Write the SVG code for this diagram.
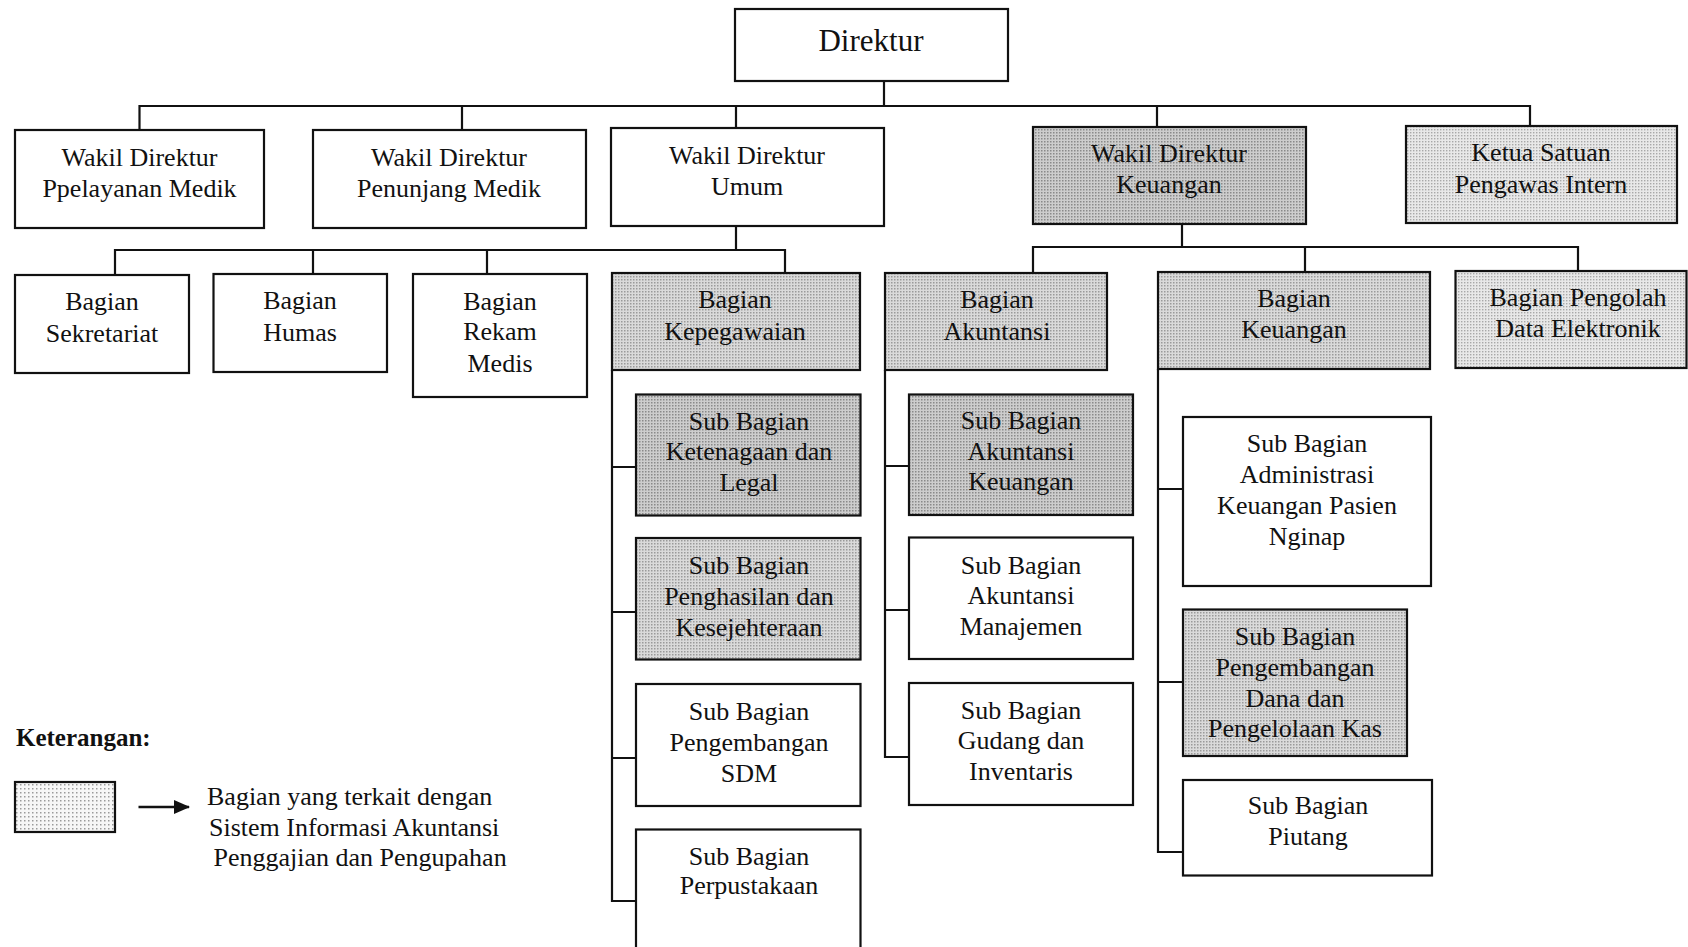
<svg xmlns="http://www.w3.org/2000/svg" width="1688" height="947" viewBox="0 0 1688 947">
  <style>
    .box { stroke: #111; stroke-width: 2.2; fill: #fff; }
    .dark { fill: url(#dotDark); }
    .mid { fill: url(#dotMid); }
    .light { fill: url(#dotLight); }
    .pale { fill: url(#dotPale); }
    .lbl { font-family: "Liberation Serif", "Times New Roman", serif; font-size: 26px; fill: #111; text-anchor: middle; }
    .conn { stroke: #111; stroke-width: 2.2; fill: none; }
  </style>
  <defs>
    <!-- halftone-like dotted fills, darkest to palest -->
    <pattern id="dotDark" width="3" height="3" patternUnits="userSpaceOnUse">
      <rect width="3" height="3" fill="#cdcdcd"/>
      <rect width="1.5" height="1.5" fill="#8a8a8a"/>
    </pattern>
    <pattern id="dotMid" width="3" height="3" patternUnits="userSpaceOnUse">
      <rect width="3" height="3" fill="#dadada"/>
      <rect width="1.5" height="1.5" fill="#9a9a9a"/>
    </pattern>
    <pattern id="dotLight" width="3" height="3" patternUnits="userSpaceOnUse">
      <rect width="3" height="3" fill="#e8e8e8"/>
      <rect width="1.4" height="1.4" fill="#a8a8a8"/>
    </pattern>
    <pattern id="dotPale" width="4" height="4" patternUnits="userSpaceOnUse">
      <rect width="4" height="4" fill="#f6f6f6"/>
      <rect width="1.5" height="1.5" fill="#9a9a9a"/>
    </pattern>
    <marker id="arrowHead" markerWidth="16" markerHeight="14" refX="15" refY="7" orient="auto" markerUnits="userSpaceOnUse">
      <path d="M0,0 L16,7 L0,14 Z" fill="#111"/>
    </marker>
  </defs>

  <!-- connectors -->
  <g id="connectors">
    <!-- Direktur to the five deputies -->
    <path class="conn" d="M884,81 V106 M139.5,130 V106 H1530 V126 M462,106 V130 M736,106 V128 M1157,106 V127"/>
    <!-- Wakil Direktur Umum to its divisions -->
    <path class="conn" d="M736,226 V250 M115,275 V250 H785 V273 M313,250 V274 M487,250 V274"/>
    <!-- Wakil Direktur Keuangan to its divisions -->
    <path class="conn" d="M1182,224 V247 M1033,273 V247 H1578 V271 M1305,247 V272"/>
    <!-- Kepegawaian sub-units -->
    <path class="conn" d="M612,370 V901 H636 M612,467 H636 M612,612 H636 M612,758 H636"/>
    <!-- Akuntansi sub-units -->
    <path class="conn" d="M885,370 V757 H909 M885,466 H909 M885,610 H909"/>
    <!-- Keuangan sub-units -->
    <path class="conn" d="M1158,369 V852 H1183 M1158,489 H1183 M1158,682 H1183"/>
  </g>

  <!-- level 0 -->
  <g id="direktur">
    <rect class="box" x="735" y="9" width="273" height="72"/>
    <text class="lbl" x="871" y="51" style="font-size:31px">Direktur</text>
  </g>

  <!-- level 1 -->
  <g id="wd-pelayanan">
    <rect class="box" x="15" y="130" width="249" height="98"/>
    <text class="lbl" x="139.5" y="166">Wakil Direktur</text>
    <text class="lbl" x="139.5" y="197">Ppelayanan Medik</text>
  </g>
  <g id="wd-penunjang">
    <rect class="box" x="313" y="130" width="273" height="98"/>
    <text class="lbl" x="449" y="166">Wakil Direktur</text>
    <text class="lbl" x="449" y="197">Penunjang Medik</text>
  </g>
  <g id="wd-umum">
    <rect class="box" x="611" y="128" width="273" height="98"/>
    <text class="lbl" x="747" y="164">Wakil Direktur</text>
    <text class="lbl" x="747" y="195">Umum</text>
  </g>
  <g id="wd-keuangan">
    <rect class="box dark" x="1033" y="127" width="273" height="97"/>
    <text class="lbl" x="1169" y="162">Wakil Direktur</text>
    <text class="lbl" x="1169" y="193">Keuangan</text>
  </g>
  <g id="ketua-spi">
    <rect class="box light" x="1406" y="126" width="271" height="97"/>
    <text class="lbl" x="1541" y="161">Ketua Satuan</text>
    <text class="lbl" x="1541" y="193">Pengawas Intern</text>
  </g>

  <!-- level 2 -->
  <g id="bagian-sekretariat">
    <rect class="box" x="15" y="275" width="174" height="98"/>
    <text class="lbl" x="102" y="310">Bagian</text>
    <text class="lbl" x="102" y="342">Sekretariat</text>
  </g>
  <g id="bagian-humas">
    <rect class="box" x="213.5" y="274" width="173.5" height="98"/>
    <text class="lbl" x="300" y="309">Bagian</text>
    <text class="lbl" x="300" y="341">Humas</text>
  </g>
  <g id="bagian-rekam-medis">
    <rect class="box" x="413" y="274" width="174" height="123"/>
    <text class="lbl" x="500" y="310">Bagian</text>
    <text class="lbl" x="500" y="340">Rekam</text>
    <text class="lbl" x="500" y="372">Medis</text>
  </g>
  <g id="bagian-kepegawaian">
    <rect class="box mid" x="612" y="273" width="248" height="97"/>
    <text class="lbl" x="735" y="308">Bagian</text>
    <text class="lbl" x="735" y="340">Kepegawaian</text>
  </g>
  <g id="bagian-akuntansi">
    <rect class="box mid" x="885" y="273" width="222" height="97"/>
    <text class="lbl" x="997" y="308">Bagian</text>
    <text class="lbl" x="997" y="340">Akuntansi</text>
  </g>
  <g id="bagian-keuangan">
    <rect class="box mid" x="1158" y="272" width="272" height="97"/>
    <text class="lbl" x="1294" y="307">Bagian</text>
    <text class="lbl" x="1294" y="338">Keuangan</text>
  </g>
  <g id="bagian-pde">
    <rect class="box light" x="1455.5" y="271" width="231" height="97"/>
    <text class="lbl" x="1578" y="306">Bagian Pengolah</text>
    <text class="lbl" x="1578" y="337">Data Elektronik</text>
  </g>

  <!-- level 3: Kepegawaian -->
  <g id="sub-ketenagaan">
    <rect class="box dark" x="636" y="394.5" width="224.5" height="121"/>
    <text class="lbl" x="749" y="429.5">Sub Bagian</text>
    <text class="lbl" x="749" y="460">Ketenagaan dan</text>
    <text class="lbl" x="749" y="491">Legal</text>
  </g>
  <g id="sub-penghasilan">
    <rect class="box mid" x="636" y="538" width="224.5" height="121.5"/>
    <text class="lbl" x="749" y="574">Sub Bagian</text>
    <text class="lbl" x="749" y="605">Penghasilan dan</text>
    <text class="lbl" x="749" y="636">Kesejehteraan</text>
  </g>
  <g id="sub-pengembangan-sdm">
    <rect class="box" x="636" y="684" width="224.5" height="122"/>
    <text class="lbl" x="749" y="720">Sub Bagian</text>
    <text class="lbl" x="749" y="751">Pengembangan</text>
    <text class="lbl" x="749" y="781.5">SDM</text>
  </g>
  <g id="sub-perpustakaan">
    <rect class="box" x="636" y="829.5" width="224.5" height="130"/>
    <text class="lbl" x="749" y="864.5">Sub Bagian</text>
    <text class="lbl" x="749" y="893.5">Perpustakaan</text>
  </g>

  <!-- level 3: Akuntansi -->
  <g id="sub-akuntansi-keuangan">
    <rect class="box dark" x="909" y="394.5" width="224" height="120.5"/>
    <text class="lbl" x="1021" y="429">Sub Bagian</text>
    <text class="lbl" x="1021" y="459.5">Akuntansi</text>
    <text class="lbl" x="1021" y="490">Keuangan</text>
  </g>
  <g id="sub-akuntansi-manajemen">
    <rect class="box" x="909" y="537.5" width="224" height="121.5"/>
    <text class="lbl" x="1021" y="573.5">Sub Bagian</text>
    <text class="lbl" x="1021" y="603.5">Akuntansi</text>
    <text class="lbl" x="1021" y="635">Manajemen</text>
  </g>
  <g id="sub-gudang">
    <rect class="box" x="909" y="683" width="224" height="122"/>
    <text class="lbl" x="1021" y="719">Sub Bagian</text>
    <text class="lbl" x="1021" y="749">Gudang dan</text>
    <text class="lbl" x="1021" y="780">Inventaris</text>
  </g>

  <!-- level 3: Keuangan -->
  <g id="sub-administrasi">
    <rect class="box" x="1183" y="417" width="248" height="169"/>
    <text class="lbl" x="1307" y="452">Sub Bagian</text>
    <text class="lbl" x="1307" y="483">Administrasi</text>
    <text class="lbl" x="1307" y="514">Keuangan Pasien</text>
    <text class="lbl" x="1307" y="544.5">Nginap</text>
  </g>
  <g id="sub-pengembangan-dana">
    <rect class="box mid" x="1183" y="609.5" width="224" height="146.5"/>
    <text class="lbl" x="1295" y="645">Sub Bagian</text>
    <text class="lbl" x="1295" y="676">Pengembangan</text>
    <text class="lbl" x="1295" y="706.5">Dana dan</text>
    <text class="lbl" x="1295" y="737">Pengelolaan Kas</text>
  </g>
  <g id="sub-piutang">
    <rect class="box" x="1183" y="780" width="249" height="95.5"/>
    <text class="lbl" x="1308" y="814">Sub Bagian</text>
    <text class="lbl" x="1308" y="844.5">Piutang</text>
  </g>

  <!-- legend -->
  <g id="legend">
    <text x="16" y="746" style="font-family:'Liberation Serif','Times New Roman',serif;font-size:25px;font-weight:bold" fill="#111">Keterangan:</text>
    <rect class="box pale" x="15" y="782" width="100" height="50"/>
    <line class="conn" x1="138.5" y1="807" x2="189" y2="807" style="stroke-width:2.6" marker-end="url(#arrowHead)"/>
    <text x="207" y="805" style="font-family:'Liberation Serif','Times New Roman',serif;font-size:26px" fill="#111">Bagian yang terkait dengan</text>
    <text x="209" y="836" style="font-family:'Liberation Serif','Times New Roman',serif;font-size:26px" fill="#111">Sistem Informasi Akuntansi</text>
    <text x="213.5" y="866" style="font-family:'Liberation Serif','Times New Roman',serif;font-size:26px" fill="#111">Penggajian dan Pengupahan</text>
  </g>
</svg>
